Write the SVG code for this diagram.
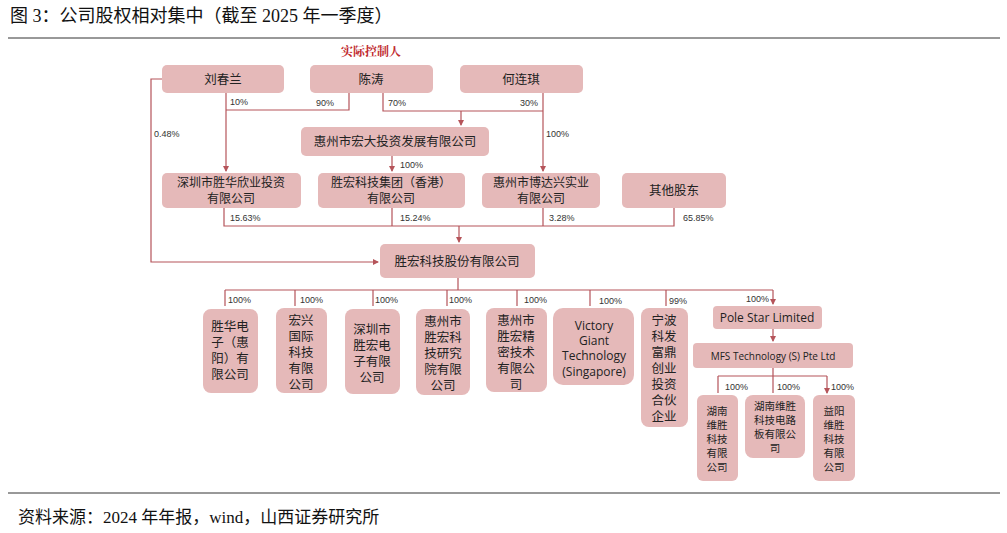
<svg xmlns="http://www.w3.org/2000/svg" width="1007" height="533" viewBox="0 0 1007 533">
<style>
.b{fill:#e5b9b9;stroke:none}
.t{font-family:"Noto Sans CJK SC","Liberation Sans",sans-serif;font-size:12.5px;fill:#222;text-anchor:middle}
.s{font-size:12px}
.e{font-family:"Open Sans","Liberation Sans",sans-serif;font-size:12px}
.m{font-size:10.5px}
.p{font-family:"Liberation Sans",sans-serif;font-size:9px;fill:#333}
.c{fill:none;stroke:#b5545a;stroke-width:1.2}
.h{font-family:"Liberation Serif","Noto Sans CJK SC",serif;font-size:18px;fill:#111}
</style>
<defs><marker id="a" markerWidth="6" markerHeight="6" refX="5" refY="3" orient="auto" markerUnits="userSpaceOnUse"><path d="M0,0L6,3L0,6z" fill="#b5545a"/></marker></defs>
<rect width="1007" height="533" fill="#fff"/>
<text class="h" x="10" y="22">图 3：公司股权相对集中（截至 2025 年一季度）</text>
<line x1="8" y1="38" x2="1000" y2="38" stroke="#333" stroke-width="1"/>
<line x1="8" y1="493" x2="1000" y2="493" stroke="#333" stroke-width="1"/>
<text class="h" x="18" y="523" style="font-size:17px">资料来源：2024 年年报，wind，山西证券研究所</text>
<text x="371" y="56" style="font-family:'Noto Serif CJK SC','Noto Sans CJK SC',serif;font-size:12px;font-weight:bold;fill:#c0282d;text-anchor:middle">实际控制人</text>
<g id="connectors">
<path class="c" d="M226,93V171" marker-end="url(#a)"/>
<path class="c" d="M226,110H349V93"/>
<path class="c" d="M383,93V111H543"/>
<path class="c" d="M461,111V125" marker-end="url(#a)"/>
<path class="c" d="M543,93V171" marker-end="url(#a)"/>
<path class="c" d="M162,79H151V262H378" marker-end="url(#a)"/>
<path class="c" d="M392,156V171" marker-end="url(#a)"/>
<path class="c" d="M224,208V226H674V208M392,208V226M543,208V226"/>
<path class="c" d="M459,226V242" marker-end="url(#a)"/>
<path class="c" d="M458,278V290M225,290H773"/>
<path class="c" d="M225,290V306M295,290V306M373,290V306M447,290V306M517,290V306M590,290V306M666,290V306M773,290V304" marker-end="url(#a)"/>
<path class="c" d="M773,329V341" marker-end="url(#a)"/>
<path class="c" d="M773,368V393M718,376H827M718,376V393M827,376V393" marker-end="url(#a)"/>
</g>
<g class="p">
<text x="230" y="105">10%</text><text x="316" y="106">90%</text><text x="388" y="106">70%</text><text x="520" y="106">30%</text>
<text x="154" y="137">0.48%</text><text x="546" y="137">100%</text><text x="400" y="168">100%</text>
<text x="230" y="221">15.63%</text><text x="400" y="221">15.24%</text><text x="549" y="221">3.28%</text><text x="683" y="221">65.85%</text>
<text x="228" y="303">100%</text><text x="300" y="303">100%</text><text x="375" y="303">100%</text><text x="449" y="303">100%</text><text x="524" y="303">100%</text><text x="599" y="304">100%</text><text x="669" y="304">99%</text><text x="746" y="302">100%</text>
<text x="725" y="390">100%</text><text x="777" y="390">100%</text><text x="831" y="390">100%</text>
</g>
<g id="n1"><rect class="b" x="162" y="65" width="122" height="28" rx="5"/><text class="t" x="223" y="84">刘春兰</text></g>
<g id="n2"><rect class="b" x="310" y="65" width="123" height="28" rx="5"/><text class="t" x="371" y="84">陈涛</text></g>
<g id="n3"><rect class="b" x="460" y="65" width="123" height="28" rx="5"/><text class="t" x="521" y="84">何连琪</text></g>
<g id="n4"><rect class="b" x="301" y="127" width="188" height="29" rx="5"/><text class="t" x="395" y="146">惠州市宏大投资发展有限公司</text></g>
<g id="n5"><rect class="b" x="162" y="173" width="139" height="35" rx="5"/><text class="t s" x="231" y="187">深圳市胜华欣业投资</text><text class="t s" x="231" y="203">有限公司</text></g>
<g id="n6"><rect class="b" x="318" y="173" width="147" height="35" rx="5"/><text class="t s" x="391" y="187">胜宏科技集团（香港）</text><text class="t s" x="391" y="203">有限公司</text></g>
<g id="n7"><rect class="b" x="482" y="173" width="118" height="35" rx="5"/><text class="t s" x="541" y="187">惠州市博达兴实业</text><text class="t s" x="541" y="203">有限公司</text></g>
<g id="n8"><rect class="b" x="622" y="173" width="104" height="35" rx="5"/><text class="t" x="674" y="195">其他股东</text></g>
<g id="n9"><rect class="b" x="380" y="244" width="155" height="34" rx="5"/><text class="t" x="457" y="266">胜宏科技股份有限公司</text></g>
<g id="c1"><rect class="b" x="203" y="309" width="55" height="84" rx="8"/><text class="t" x="230" y="331">胜华电</text><text class="t" x="230" y="347">子（惠</text><text class="t" x="230" y="363">阳）有</text><text class="t" x="230" y="379">限公司</text></g>
<g id="c2"><rect class="b" x="276" y="308" width="51" height="85" rx="8"/><text class="t" x="301" y="325">宏兴</text><text class="t" x="301" y="341">国际</text><text class="t" x="301" y="357">科技</text><text class="t" x="301" y="373">有限</text><text class="t" x="301" y="389">公司</text></g>
<g id="c3"><rect class="b" x="345" y="309" width="55" height="85" rx="8"/><text class="t" x="372" y="334">深圳市</text><text class="t" x="372" y="350">胜宏电</text><text class="t" x="372" y="366">子有限</text><text class="t" x="372" y="382">公司</text></g>
<g id="c4"><rect class="b" x="416" y="309" width="54" height="86" rx="8"/><text class="t" x="443" y="326">惠州市</text><text class="t" x="443" y="342">胜宏科</text><text class="t" x="443" y="358">技研究</text><text class="t" x="443" y="374">院有限</text><text class="t" x="443" y="390">公司</text></g>
<g id="c5"><rect class="b" x="486" y="308" width="61" height="84" rx="8"/><text class="t" x="516" y="325">惠州市</text><text class="t" x="516" y="341">胜宏精</text><text class="t" x="516" y="357">密技术</text><text class="t" x="516" y="373">有限公</text><text class="t" x="516" y="389">司</text></g>
<g id="c6"><rect class="b" x="553" y="308" width="81" height="77" rx="10"/><text class="t e" x="594" y="330">Victory</text><text class="t e" x="594" y="345">Giant</text><text class="t e" x="594" y="360">Technology</text><text class="t e" x="594" y="376">(Singapore)</text></g>
<g id="c7"><rect class="b" x="641" y="308" width="47" height="119" rx="8"/><text class="t" x="664" y="325">宁波</text><text class="t" x="664" y="341">科发</text><text class="t" x="664" y="357">富鼎</text><text class="t" x="664" y="373">创业</text><text class="t" x="664" y="389">投资</text><text class="t" x="664" y="405">合伙</text><text class="t" x="664" y="421">企业</text></g>
<g id="c8"><rect class="b" x="713" y="306" width="109" height="23" rx="4"/><text class="t e" x="767" y="322">Pole Star Limited</text></g>
<g id="c9"><rect class="b" x="693" y="343" width="160" height="25" rx="4"/><text class="t e" x="773" y="360" style="font-size:10px">MFS Technology (S) Pte Ltd</text></g>
<g id="d1"><rect class="b" x="697" y="395" width="41" height="86" rx="6"/><text class="t m" x="717" y="415">湖南</text><text class="t m" x="717" y="429">维胜</text><text class="t m" x="717" y="443">科技</text><text class="t m" x="717" y="457">有限</text><text class="t m" x="717" y="471">公司</text></g>
<g id="d2"><rect class="b" x="745" y="395" width="60" height="63" rx="8"/><text class="t m" x="775" y="410">湖南维胜</text><text class="t m" x="775" y="424">科技电路</text><text class="t m" x="775" y="438">板有限公</text><text class="t m" x="775" y="452">司</text></g>
<g id="d3"><rect class="b" x="813" y="395" width="42" height="86" rx="6"/><text class="t m" x="834" y="415">益阳</text><text class="t m" x="834" y="429">维胜</text><text class="t m" x="834" y="443">科技</text><text class="t m" x="834" y="457">有限</text><text class="t m" x="834" y="471">公司</text></g>
</svg>
